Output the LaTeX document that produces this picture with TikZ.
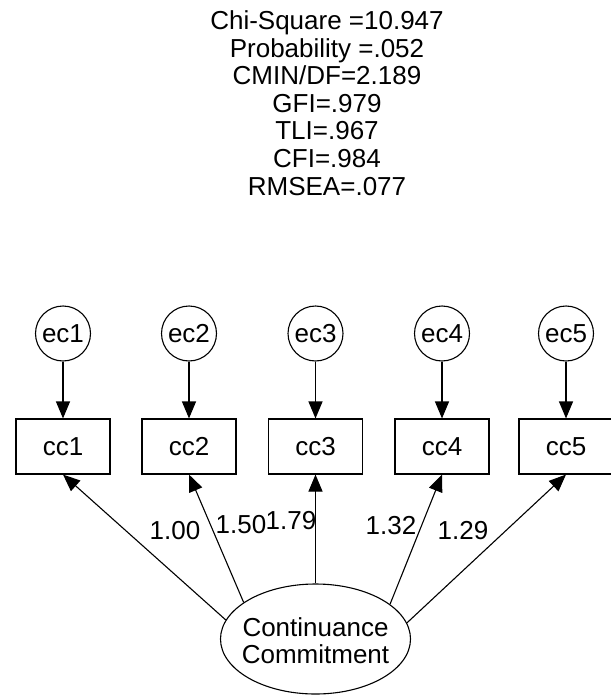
\documentclass[tikz,border=0pt]{standalone}
\usepackage{fontspec}
\setmainfont{Liberation Sans}
\usetikzlibrary{arrows.meta,shapes.geometric}
\begin{document}
\begin{tikzpicture}[x=1pt,y=-1pt,
  every node/.style={font=\fontsize{26}{27}\selectfont},
  obs/.style={draw,rectangle,minimum width=94pt,minimum height=55pt,inner sep=0pt,line width=1.1pt},
  err/.style={draw,circle,minimum size=55pt,inner sep=0pt,line width=1.1pt},
  lat/.style={draw,ellipse,minimum width=190pt,minimum height=110pt,inner sep=0pt,line width=1.1pt},
  reg/.style={line width=1.1pt,-{Triangle[length=17pt,width=14pt]}},
  lbl/.style={inner sep=0pt}]
\useasboundingbox (0,0) rectangle (610,695);

% fit statistics
\foreach \t [count=\i] in {Chi-Square =10.947,Probability =.052,CMIN/DF=2.189,GFI=.979,TLI=.967,CFI=.984,RMSEA=.077}
  \node[anchor=base,inner sep=0pt] (s\i) at (327,{30+27.5*(\i-1)}) {\t};

% error terms and observed variables
\foreach \x [count=\i] in {63,189,315.5,442,566}{
  \node[err] (ec\i) at (\x,333.5) {ec\i};
  \node[obs] (cc\i) at (\x,446.5) {cc\i};
  \draw[reg] (ec\i) -- (cc\i);
}

% latent variable
\node[lat] (lv) at (315.5,639) {};
\node[align=center,inner sep=0pt] (lvt) at (315.5,641) {Continuance\\Commitment};

% loadings
\draw[reg] (lv.168.4) -- (cc1.south);
\draw[reg] (lv.153.3) -- (cc2.south);
\draw[reg] (lv.90) -- (cc3.south);
\draw[reg] (lv.25.1) -- (cc4.south);
\draw[reg] (lv.10.6) -- (cc5.south);

% loading labels
\node[lbl] (l1) at (175,531) {1.00};
\node[lbl] (l2) at (241,525) {1.50};
\node[lbl] (l3) at (291,521) {1.79};
\node[lbl] (l4) at (391,526) {1.32};
\node[lbl] (l5) at (463,531) {1.29};
\end{tikzpicture}
\end{document}
